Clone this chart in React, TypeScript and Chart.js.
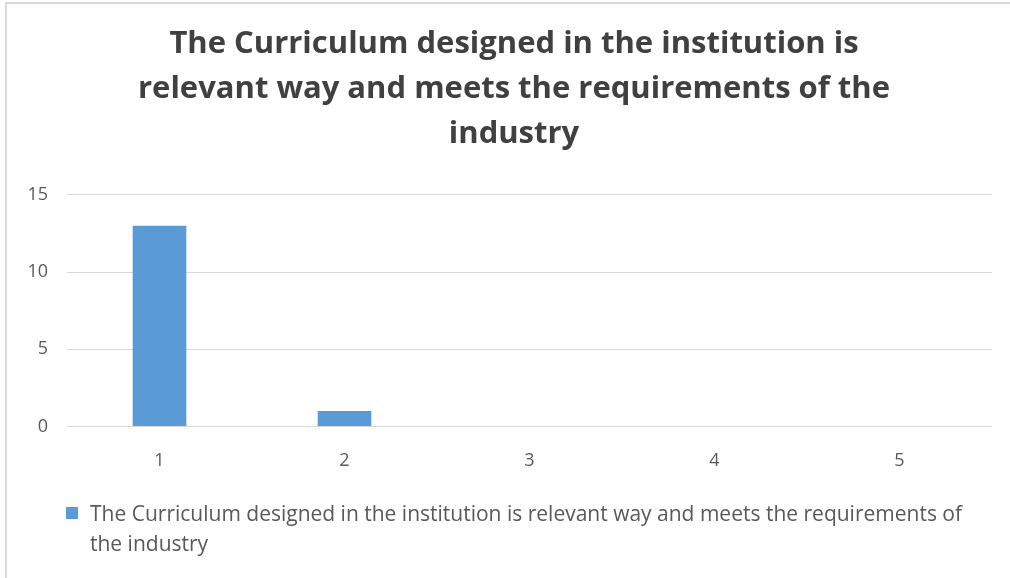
import React, { useEffect, useRef } from "react";
import { Chart, registerables } from "chart.js";

Chart.register(...registerables);

const titleLines = [
  "The Curriculum designed in the institution is",
  "relevant way and meets the requirements of the",
  "industry",
];
const categories = ["1", "2", "3", "4", "5"];
const seriesLabel =
  "The Curriculum designed in the institution is relevant way and meets the requirements of the industry";
const seriesValues = [13, 1, 0, 0, 0];
const yTicks = [0, 5, 10, 15];
const barColor = "#5B9BD5";
const textColor = "#595959";
const FONT = "'Open Sans', 'Noto Sans', sans-serif";

const titleShift = {
  id: "titleShift",
  afterLayout(chart: any) {
    const t = chart.titleBlock;
    if (t) t.left += 36;
  },
};

export default function App() {
  const canvasRef = useRef<HTMLCanvasElement | null>(null);

  useEffect(() => {
    document.body.style.margin = "0";
    const canvas = canvasRef.current;
    if (!canvas) return;
    const chart = new Chart(canvas, {
      type: "bar",
      data: {
        labels: categories,
        datasets: [
          {
            label: seriesLabel,
            data: seriesValues,
            backgroundColor: barColor,
            borderWidth: 0,
            barPercentage: 0.58,
            categoryPercentage: 0.5,
          },
        ],
      },
      plugins: [titleShift],
      options: {
        responsive: false,
        animation: false,
        maintainAspectRatio: false,
        layout: { padding: { left: 0, right: 18, top: 22, bottom: 82 } },
        plugins: {
          legend: { display: false },
          tooltip: { enabled: false },
          title: {
            display: true,
            text: titleLines,
            color: "#404040",
            font: { family: FONT, size: 31, weight: "bold", lineHeight: 1.45 },
            padding: { top: 0, bottom: 38 },
          },
        },
        scales: {
          x: {
            grid: { display: false, drawTicks: false },
            border: { display: false },
            ticks: {
              color: textColor,
              font: { family: FONT, size: 18 },
              padding: 24,
            },
          },
          y: {
            min: 0,
            max: 15,
            afterBuildTicks: (scale: any) => {
              scale.ticks = yTicks.map((v) => ({ value: v }));
            },
            afterFit: (scale: any) => {
              scale.width = 67;
            },
            grid: { color: "#d9d9d9", lineWidth: 1, drawTicks: false },
            border: { display: false },
            ticks: {
              color: textColor,
              font: { family: FONT, size: 18 },
              padding: 19,
            },
          },
        },
      },
    });
    return () => chart.destroy();
  }, []);

  return (
    <div style={{ position: "relative", width: 1010, height: 578, background: "#fff", overflow: "hidden" }}>
      <div
        style={{
          position: "absolute",
          left: 5,
          top: 2,
          width: 1100,
          height: 700,
          borderTop: "2px solid #d9d9d9",
          borderLeft: "2px solid #d9d9d9",
          boxSizing: "border-box",
        }}
      />
      <canvas ref={canvasRef} width={1010} height={578} style={{ position: "absolute", left: 0, top: 0 }} />
      <div
        style={{
          position: "absolute",
          left: 66,
          top: 498,
          width: 920,
          fontFamily: FONT,
          fontSize: 21,
          lineHeight: "30px",
          color: textColor,
          display: "flex",
          alignItems: "flex-start",
        }}
      >
        <span
          style={{
            display: "inline-block",
            width: 12,
            height: 12,
            background: barColor,
            marginTop: 9,
            marginRight: 12,
            flex: "none",
          }}
        />
        <span style={{ width: 885 }}>{seriesLabel}</span>
      </div>
    </div>
  );
}
